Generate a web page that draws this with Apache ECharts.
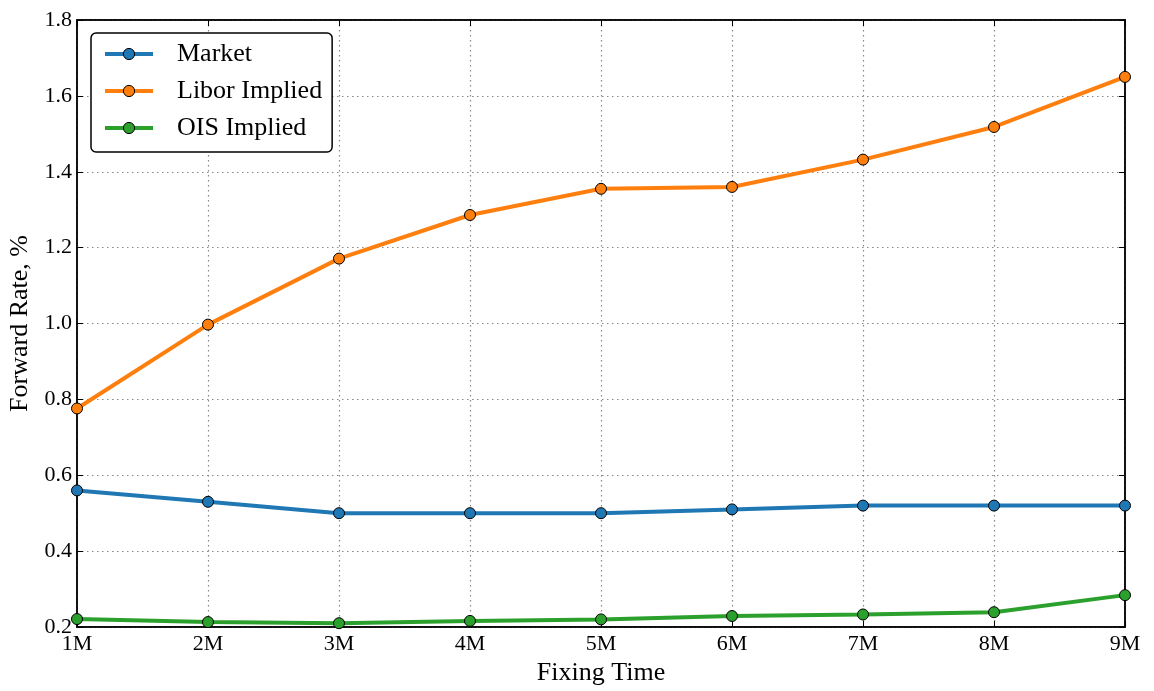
<!DOCTYPE html>
<html>
<head>
<meta charset="utf-8">
<script src="https://cdn.jsdelivr.net/npm/echarts@6/dist/echarts.min.js"></script>
<style>html,body{margin:0;padding:0;background:#fff}#c{width:1154px;height:691px}</style>
</head>
<body>
<div id="c"></div>
<script>
const categories = ['1M','2M','3M','4M','5M','6M','7M','8M','9M'];
const market = [0.56, 0.53, 0.50, 0.50, 0.50, 0.51, 0.52, 0.52, 0.52];
const libor = [0.776, 0.997, 1.171, 1.286, 1.355, 1.360, 1.432, 1.518, 1.650];
const ois = [0.221, 0.213, 0.210, 0.216, 0.220, 0.229, 0.233, 0.239, 0.284];
const yTicks = [0.2, 0.4, 0.6, 0.8, 1.0, 1.2, 1.4, 1.6, 1.8];

const FONT = '"Liberation Serif", "DejaVu Serif", serif';
const chart = echarts.init(document.getElementById('c'));
function mk(name, data, color){
  return {
    name, type:'line', data, symbol:'circle', symbolSize:11,
    lineStyle:{color, width:4}, itemStyle:{color, borderColor:'#000', borderWidth:1},
    emphasis:{disabled:true}, animation:false, z:3
  };
}
chart.setOption({
  animation:false,
  grid:{left:77, right:29, top:20, bottom:64, show:true, borderColor:'#000', borderWidth:1.5,
        containLabel:false, outerBoundsMode:'none'},
  legend:{
    orient:'vertical', left:91, top:33, padding:[8,10,11,12], itemGap:11,
    itemWidth:48, itemHeight:14,
    borderColor:'#000', borderWidth:1.5, borderRadius:5, backgroundColor:'#fff',
    lineStyle:{width:4},
    itemStyle:{borderColor:'#000', borderWidth:1},
    textStyle:{fontFamily:FONT, fontSize:26, color:'#000', padding:[0,0,0,19]},
    data:['Market','Libor Implied','OIS Implied']
  },
  xAxis:[{
    type:'category', data:categories, boundaryGap:false,
    name:'Fixing Time', nameLocation:'middle', nameGap:31,
    nameTextStyle:{fontFamily:FONT, fontSize:26, color:'#000'},
    axisLine:{lineStyle:{color:'#000', width:1.5}},
    axisTick:{inside:true, length:6, lineStyle:{color:'#000', width:1}},
    axisLabel:{fontFamily:FONT, fontSize:22, color:'#000', margin:6},
    splitLine:{show:true, lineStyle:{color:'#888', type:[1.5,3.5], width:1.2}}
  },{
    type:'category', data:categories, boundaryGap:false, position:'top',
    axisLine:{lineStyle:{color:'#000', width:1.5}},
    axisTick:{inside:true, length:6, lineStyle:{color:'#000'}},
    axisLabel:{show:false}, splitLine:{show:false}
  }],
  yAxis:[{
    type:'value', min:0.2, max:1.8, interval:0.2,
    name:'Forward Rate, %', nameLocation:'middle', nameGap:44,
    nameTextStyle:{fontFamily:FONT, fontSize:26, color:'#000'},
    axisLine:{show:true, lineStyle:{color:'#000', width:1.5}},
    axisTick:{show:true, inside:true, length:6, lineStyle:{color:'#000'}},
    axisLabel:{fontFamily:FONT, fontSize:22, color:'#000', margin:5, formatter:v=>v.toFixed(1)},
    splitLine:{show:true, lineStyle:{color:'#888', type:[1.5,3.5], width:1.2}}
  },{
    type:'value', min:0.2, max:1.8, interval:0.2, position:'right',
    axisLine:{show:true, lineStyle:{color:'#000', width:1.5}},
    axisTick:{show:true, inside:true, length:6, lineStyle:{color:'#000'}},
    axisLabel:{show:false}, splitLine:{show:false}
  }],
  series:[
    mk('Market', market, '#1f77b4'),
    mk('Libor Implied', libor, '#ff7f0e'),
    mk('OIS Implied', ois, '#2ca02c')
  ]
});
</script>
</body>
</html>
